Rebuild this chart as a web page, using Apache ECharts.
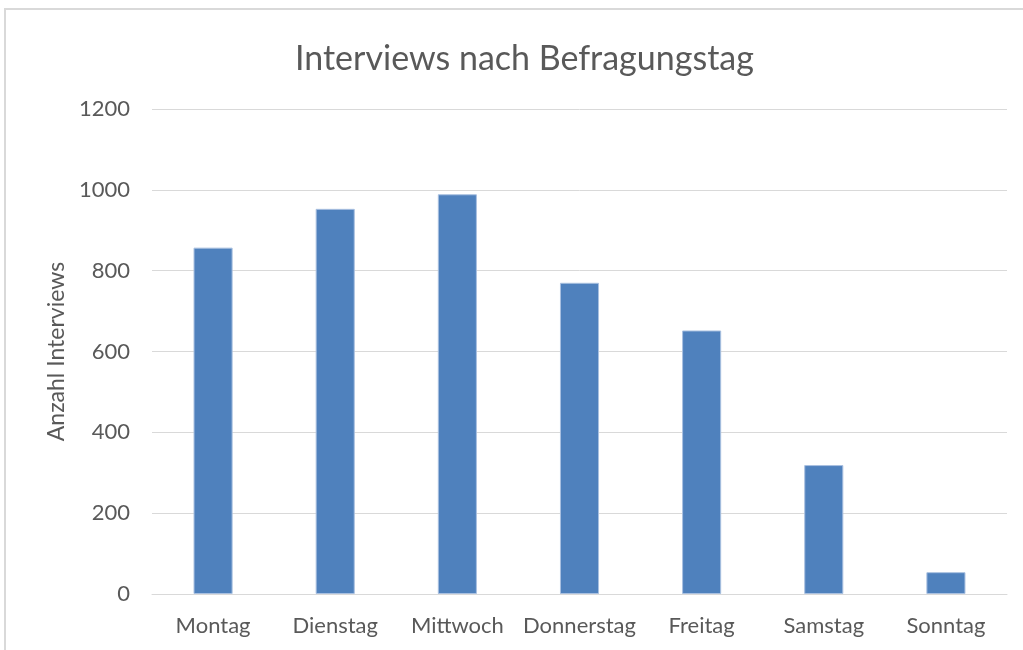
<!DOCTYPE html>
<html>
	<head>
		<meta charset="utf-8">
		<title>Interviews nach Befragungstag</title>
		<style type="text/css">
			html,body{margin:0;padding:0;background:#fff;}
			#main{width:1023px;height:650px;}
		</style>
	</head>
	<body>
		<div id="main"></div>
		<script src="https://cdn.jsdelivr.net/npm/echarts@6/dist/echarts.min.js"></script>
		<script type="text/javascript">
			var tage = ['Montag', 'Dienstag', 'Mittwoch', 'Donnerstag', 'Freitag', 'Samstag', 'Sonntag'];
			var interviews = [857, 953, 989, 770, 652, 319, 54];
			var yMin = 0, yMax = 1200, yStep = 200;

			var font = 'Lato, "Open Sans", sans-serif';
			var grau = '#595959';

			var chart = echarts.init(document.getElementById('main'));
			var option = {
				backgroundColor: '#fff',
				animation: false,
				title: {
					text: 'Interviews nach Befragungstag',
					left: 290,
					top: 37,
					textStyle: {fontFamily: font, fontSize: 34, fontWeight: 'normal', color: grau}
				},
				graphic: [{
					type: 'polyline',
					shape: {points: [[5, 650], [5, 9], [1023, 9]]},
					style: {stroke: '#d9d9d9', lineWidth: 2, fill: null}
				}],
				grid: {left: 152, right: 16, top: 109, bottom: 56},
				xAxis: {
					type: 'category',
					data: tage,
					axisLine: {lineStyle: {color: '#d9d9d9', width: 1}},
					axisTick: {show: false},
					axisLabel: {fontFamily: font, fontSize: 22, color: grau, margin: 21, interval: 0}
				},
				yAxis: {
					type: 'value',
					min: yMin, max: yMax, interval: yStep,
					name: 'Anzahl Interviews',
					nameLocation: 'middle',
					nameGap: 77,
					nameTextStyle: {fontFamily: font, fontSize: 23, color: grau},
					axisLine: {show: false},
					axisTick: {show: false},
					axisLabel: {fontFamily: font, fontSize: 22, color: grau, margin: 22,
						formatter: function(v){ return String(v); }},
					splitLine: {lineStyle: {color: '#d9d9d9', width: 1}}
				},
				series: [{
					type: 'bar',
					data: interviews,
					barWidth: '32%',
					itemStyle: {color: '#4f81bd', borderColor: '#a9c0e0', borderWidth: 1}
				}]
			};
			chart.setOption(option);
		</script>
	</body>
</html>
